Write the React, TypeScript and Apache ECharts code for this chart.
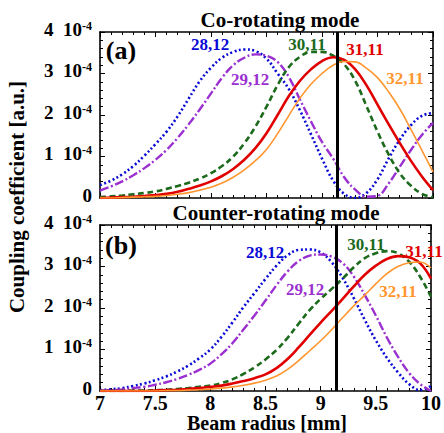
import React, { useEffect, useRef } from "react";
import * as echarts from "echarts";

const FONT = "'Liberation Serif', 'Times New Roman', serif";

// Beam radius [mm]
const radius = [
  7.0, 7.1, 7.2, 7.3, 7.4, 7.5, 7.6, 7.7, 7.8, 7.9,
  8.0, 8.1, 8.2, 8.3, 8.4, 8.5, 8.6, 8.7, 8.8, 8.9,
  9.0, 9.1, 9.2, 9.3, 9.4, 9.5, 9.6, 9.7, 9.8, 9.9, 10.0,
];

// Coupling coefficient in units of 1e-4 — (a) co-rotating mode
const coTE28_12 = [0.31, 0.42, 0.57, 0.77, 1.02, 1.3, 1.6, 1.97, 2.4, 2.82, 3.14, 3.38, 3.52, 3.58, 3.54, 3.36, 3.0, 2.63, 2.12, 1.54, 0.95, 0.42, 0.1, 0.0, 0.12, 0.45, 0.95, 1.4, 1.75, 1.98, 2.05];
const coTE29_12 = [0.18, 0.28, 0.4, 0.55, 0.72, 0.92, 1.16, 1.45, 1.78, 2.14, 2.52, 2.9, 3.2, 3.38, 3.46, 3.43, 3.28, 2.92, 2.38, 1.85, 1.35, 0.95, 0.5, 0.2, 0.03, 0.05, 0.35, 0.75, 1.15, 1.52, 1.81];
const coTE30_11 = [0.02, 0.04, 0.06, 0.09, 0.12, 0.16, 0.22, 0.29, 0.37, 0.47, 0.6, 0.77, 1.0, 1.32, 1.72, 2.2, 2.72, 3.15, 3.4, 3.52, 3.52, 3.43, 3.22, 2.82, 2.22, 1.6, 1.05, 0.6, 0.3, 0.1, 0.01];
const coTE31_11 = [0.0, 0.01, 0.02, 0.03, 0.05, 0.07, 0.1, 0.15, 0.22, 0.3, 0.4, 0.53, 0.7, 0.92, 1.2, 1.56, 2.0, 2.45, 2.82, 3.1, 3.3, 3.39, 3.33, 3.1, 2.72, 2.25, 1.78, 1.33, 0.9, 0.52, 0.19];
const coTE32_11 = [0.0, 0.0, 0.01, 0.02, 0.03, 0.04, 0.06, 0.09, 0.13, 0.19, 0.26, 0.36, 0.5, 0.68, 0.9, 1.17, 1.55, 1.98, 2.4, 2.74, 3.0, 3.2, 3.29, 3.28, 3.13, 2.9, 2.56, 2.15, 1.66, 1.15, 0.63];

// (b) counter-rotating mode
const ctTE28_12 = [0.02, 0.04, 0.07, 0.12, 0.18, 0.26, 0.35, 0.47, 0.61, 0.79, 1.0, 1.3, 1.65, 2.02, 2.36, 2.7, 3.02, 3.27, 3.4, 3.41, 3.34, 3.1, 2.72, 2.24, 1.71, 1.22, 0.8, 0.45, 0.17, 0.02, 0.12];
const ctTE29_12 = [0.01, 0.02, 0.04, 0.07, 0.1, 0.15, 0.21, 0.29, 0.39, 0.51, 0.66, 0.88, 1.15, 1.48, 1.82, 2.18, 2.55, 2.88, 3.13, 3.26, 3.29, 3.24, 3.08, 2.76, 2.31, 1.82, 1.29, 0.83, 0.44, 0.17, 0.0];
const ctTE30_11 = [0.0, 0.0, 0.0, 0.01, 0.01, 0.02, 0.03, 0.05, 0.07, 0.1, 0.13, 0.19, 0.28, 0.41, 0.57, 0.76, 0.99, 1.28, 1.62, 1.95, 2.22, 2.46, 2.71, 2.98, 3.2, 3.32, 3.37, 3.32, 3.12, 2.76, 2.27];
const ctTE31_11 = [0.0, 0.0, 0.0, 0.0, 0.0, 0.01, 0.02, 0.03, 0.05, 0.07, 0.1, 0.13, 0.18, 0.24, 0.31, 0.4, 0.55, 0.77, 1.05, 1.35, 1.65, 1.93, 2.22, 2.52, 2.8, 3.02, 3.18, 3.25, 3.22, 3.08, 2.71];
const ctTE32_11 = [0.0, 0.0, 0.0, 0.0, 0.0, 0.0, 0.01, 0.01, 0.02, 0.03, 0.05, 0.07, 0.1, 0.14, 0.19, 0.26, 0.36, 0.52, 0.73, 0.97, 1.21, 1.48, 1.77, 2.05, 2.31, 2.58, 2.83, 3.0, 3.09, 3.11, 2.97];

const resonanceRadius = 9.14;
const modeNames = ["28,12", "29,12", "30,11", "31,11", "32,11"];

const COLORS = ["#0a0ad6", "#9b30d0", "#1c6a1c", "#e00000", "#ff9630"];
const STYLES: any[] = [
  { type: [2, 2.5], width: 2.6 },
  { type: [9, 2.5, 2, 2.5], width: 2.4 },
  { type: [6, 3.5], width: 2.6 },
  { type: "solid", width: 2.6 },
  { type: "solid", width: 1.6 },
];

export default function App() {
  const ref = useRef<HTMLDivElement>(null);
  useEffect(() => {
    if (!ref.current) return;
    const chart = echarts.init(ref.current, null, { renderer: "svg" });
    const L = 100, W = 333, H = 166;
    const grids = [
      { left: L, top: 32, width: W, height: H },
      { left: L, top: 225, width: W, height: H },
    ];
    const lineAxis = { show: true, onZero: false, lineStyle: { color: "#000", width: 1.6 } };
    const tick = { show: true, inside: true, length: 5, lineStyle: { color: "#000", width: 1 } };
    const minor = { show: true, splitNumber: 5, length: 3, lineStyle: { color: "#000", width: 1 } };
    const mkX = (g: number, pos: string, labels: boolean) => ({
      gridIndex: g, type: "value", min: 7, max: 10, interval: 0.5, position: pos,
      axisLine: lineAxis, axisTick: tick, minorTick: minor, splitLine: { show: false },
      axisLabel: {
        show: labels, margin: 2, color: "#000", fontFamily: FONT, fontWeight: "bold", fontSize: 20,
        formatter: (v: number) => String(v),
      },
    });
    const mkY = (g: number, pos: string, labels: boolean) => ({
      gridIndex: g, type: "value", min: 0, max: 4, interval: 1, position: pos,
      axisLine: lineAxis, axisTick: tick, minorTick: minor, splitLine: { show: false },
      axisLabel: {
        show: labels, margin: 8, color: "#000", padding: [0, 0, 6, 0],
        formatter: (v: number) => (v === 0 ? "{n|0}" : `{n|${v}  10}{s|-4}`),
        rich: {
          n: { fontFamily: FONT, fontWeight: "bold", fontSize: 19, color: "#000" },
          s: { fontFamily: FONT, fontWeight: "bold", fontSize: 12, color: "#000", verticalAlign: "top" },
        },
      },
    });
    const sets = [
      [coTE28_12, coTE29_12, coTE30_11, coTE31_11, coTE32_11],
      [ctTE28_12, ctTE29_12, ctTE30_11, ctTE31_11, ctTE32_11],
    ];
    const series: any[] = [];
    sets.forEach((set, g) => {
      set.forEach((vals, k) => {
        series.push({
          type: "line", name: modeNames[k] + (g ? " b" : " a"),
          xAxisIndex: g * 2, yAxisIndex: g * 2,
          data: radius.map((r, i) => [r, vals[i]]),
          showSymbol: false, smooth: 0.4, z: 2 + k,
          lineStyle: { color: COLORS[k], width: STYLES[k].width, type: STYLES[k].type, cap: "butt" },
          markLine: k === 4 ? {
            silent: true, symbol: "none", label: { show: false }, z: 10,
            lineStyle: { color: "#000", width: 3, type: "solid" },
            data: [{ xAxis: resonanceRadius }],
          } : undefined,
        });
      });
    });
    const txt = (text: string, x: number, y: number, size: number, color = "#000", rot = 0) => ({
      type: "text", x, y, rotation: rot, z: 100,
      style: { text, fill: color, fontFamily: FONT, fontWeight: "bold", fontSize: size, align: "center", verticalAlign: "middle" },
    });
    const labelPos = [
      [[210, 44], [250, 79], [307, 44], [365, 49], [405, 78]],
      [[265, 252], [305, 289], [366, 244], [424, 251], [398, 291]],
    ];
    const graphic: any[] = [
      txt("Co-rotating mode", 280, 20, 21),
      txt("Counter-rotating mode", 276, 213, 21),
      txt("Beam radius [mm]", 267, 423, 20),
      txt("Coupling coefficient [a.u.]", 17, 197, 21, "#000", Math.PI / 2),
      txt("(a)", 121, 50, 26),
      txt("(b)", 121, 245, 26),
    ];
    labelPos.forEach((ps) => ps.forEach((p, k) => graphic.push(txt(modeNames[k], p[0], p[1], 17, COLORS[k]))));
    chart.setOption({
      animation: false,
      backgroundColor: "#fff",
      grid: grids,
      xAxis: [mkX(0, "bottom", false), mkX(0, "top", false), mkX(1, "bottom", true), mkX(1, "top", false)],
      yAxis: [mkY(0, "left", true), mkY(0, "right", false), mkY(1, "left", true), mkY(1, "right", false)],
      series,
      graphic,
    });
    return () => chart.dispose();
  }, []);
  return <div ref={ref} style={{ width: 444, height: 433, position: "absolute", left: 0, top: 0 }} />;
}
